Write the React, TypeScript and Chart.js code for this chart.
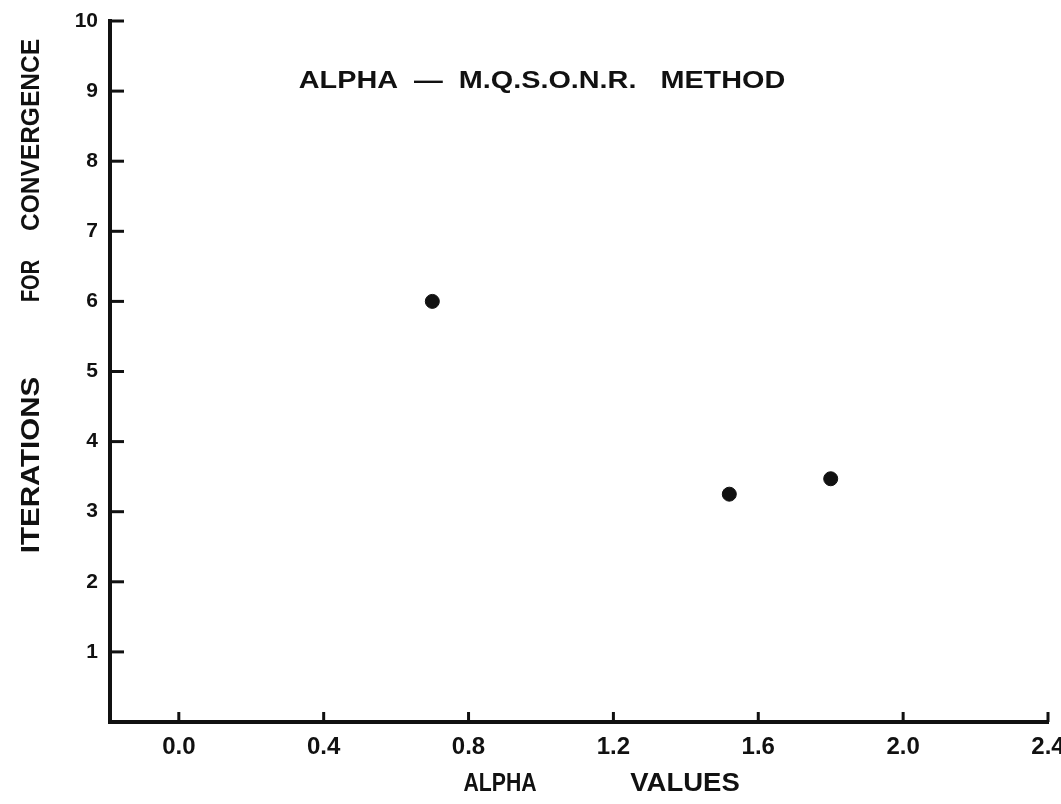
import React, { useEffect, useRef } from "react";
import { Chart, registerables } from "chart.js";

Chart.register(...registerables);

const xTickValues = [0.0, 0.4, 0.8, 1.2, 1.6, 2.0, 2.4];
const xTickLabels = ["0.0", "0.4", "0.8", "1.2", "1.6", "2.0", "2.4"];
const yTickValues = [1, 2, 3, 4, 5, 6, 7, 8, 9, 10];
const alphaValues = [0.7, 1.52, 1.8];
const iterationValues = [6.0, 3.25, 3.47];

const chartTitle = "ALPHA  —  M.Q.S.O.N.R.   METHOD";
const yTitleWords = ["ITERATIONS", "FOR", "CONVERGENCE"];
const xTitleWords = ["ALPHA", "VALUES"];

const FONT = "'Liberation Sans', Arial, sans-serif";

function stretchedText(ctx: any, text: string, cx: number, cy: number, sx: number) {
  ctx.save();
  ctx.translate(cx, cy);
  ctx.scale(sx, 1);
  ctx.fillText(text, 0, 0);
  ctx.restore();
}

const annotationPlugin = {
  id: "scanAnnotations",
  afterDraw(chart: any) {
    const ctx = chart.ctx;
    const xs = chart.scales.x;
    const ys = chart.scales.y;
    const area = chart.chartArea;
    ctx.save();
    ctx.strokeStyle = "#111";
    ctx.lineCap = "butt";
    ctx.lineWidth = 3;
    yTickValues.forEach((v) => {
      const py = ys.getPixelForValue(v);
      ctx.beginPath();
      ctx.moveTo(area.left, py);
      ctx.lineTo(area.left + 14, py);
      ctx.stroke();
    });
    xTickValues.forEach((v) => {
      const px = xs.getPixelForValue(v);
      ctx.beginPath();
      ctx.moveTo(px, area.bottom);
      ctx.lineTo(px, area.bottom - 10);
      ctx.stroke();
    });
    ctx.fillStyle = "#111";
    ctx.textAlign = "center";
    ctx.textBaseline = "middle";
    ctx.font = `bold 24px ${FONT}`;
    stretchedText(ctx, chartTitle, 542, 81, 1.2);
    ctx.font = `bold 25px ${FONT}`;
    stretchedText(ctx, xTitleWords[0], 500, 784, 0.85);
    stretchedText(ctx, xTitleWords[1], 685, 784, 1.1);
    ctx.save();
    ctx.translate(32, 0);
    ctx.rotate(-Math.PI / 2);
    ctx.font = `bold 25px ${FONT}`;
    stretchedText(ctx, yTitleWords[0], -465, 0, 1.18);
    stretchedText(ctx, yTitleWords[1], -281, 0, 0.8);
    stretchedText(ctx, yTitleWords[2], -135, 0, 0.98);
    ctx.restore();
    ctx.restore();
  },
};

export default function App() {
  const canvasRef = useRef<HTMLCanvasElement | null>(null);

  useEffect(() => {
    if (!canvasRef.current) return;
    const points = alphaValues.map((x, i) => ({ x, y: iterationValues[i] }));
    const chart = new Chart(canvasRef.current, {
      type: "scatter",
      data: {
        datasets: [
          {
            data: points,
            backgroundColor: "#111",
            borderColor: "#111",
            pointRadius: 7,
            pointHoverRadius: 7,
          },
        ],
      },
      options: {
        responsive: false,
        animation: false,
        events: [],
        layout: { padding: { top: 21, right: 13, left: 0, bottom: 0 } },
        plugins: {
          legend: { display: false },
          tooltip: { enabled: false },
          title: { display: false },
        },
        scales: {
          x: {
            type: "linear",
            min: -0.19,
            max: 2.4,
            afterBuildTicks: (scale: any) => {
              scale.ticks = xTickValues.map((v) => ({ value: v }));
            },
            afterFit: (scale: any) => {
              scale.height = 82;
              scale.paddingLeft = 0;
              scale.paddingRight = 0;
            },
            grid: { display: false, drawTicks: false },
            border: { display: true, color: "#111", width: 4 },
            ticks: {
              color: "#111",
              padding: 11,
              maxRotation: 0,
              autoSkip: false,
              font: { family: FONT, size: 24, weight: "bold" },
              callback: (v: any) => {
                const i = xTickValues.findIndex((t) => Math.abs(t - Number(v)) < 1e-6);
                return i >= 0 ? xTickLabels[i] : "";
              },
            },
          },
          y: {
            type: "linear",
            min: 0,
            max: 10,
            afterBuildTicks: (scale: any) => {
              scale.ticks = yTickValues.map((v) => ({ value: v }));
            },
            afterFit: (scale: any) => {
              scale.width = 110;
              scale.paddingTop = 0;
              scale.paddingBottom = 0;
            },
            grid: { display: false, drawTicks: false },
            border: { display: true, color: "#111", width: 4 },
            ticks: {
              color: "#111",
              padding: 12,
              autoSkip: false,
              font: { family: FONT, size: 21, weight: "bold" },
              callback: (v: any) => String(v),
            },
          },
        },
      },
      plugins: [annotationPlugin],
    });
    return () => chart.destroy();
  }, []);

  return (
    <div style={{ position: "fixed", left: 0, top: 0, width: 1061, height: 804, background: "#fff" }}>
      <canvas ref={canvasRef} width={1061} height={804} />
    </div>
  );
}
